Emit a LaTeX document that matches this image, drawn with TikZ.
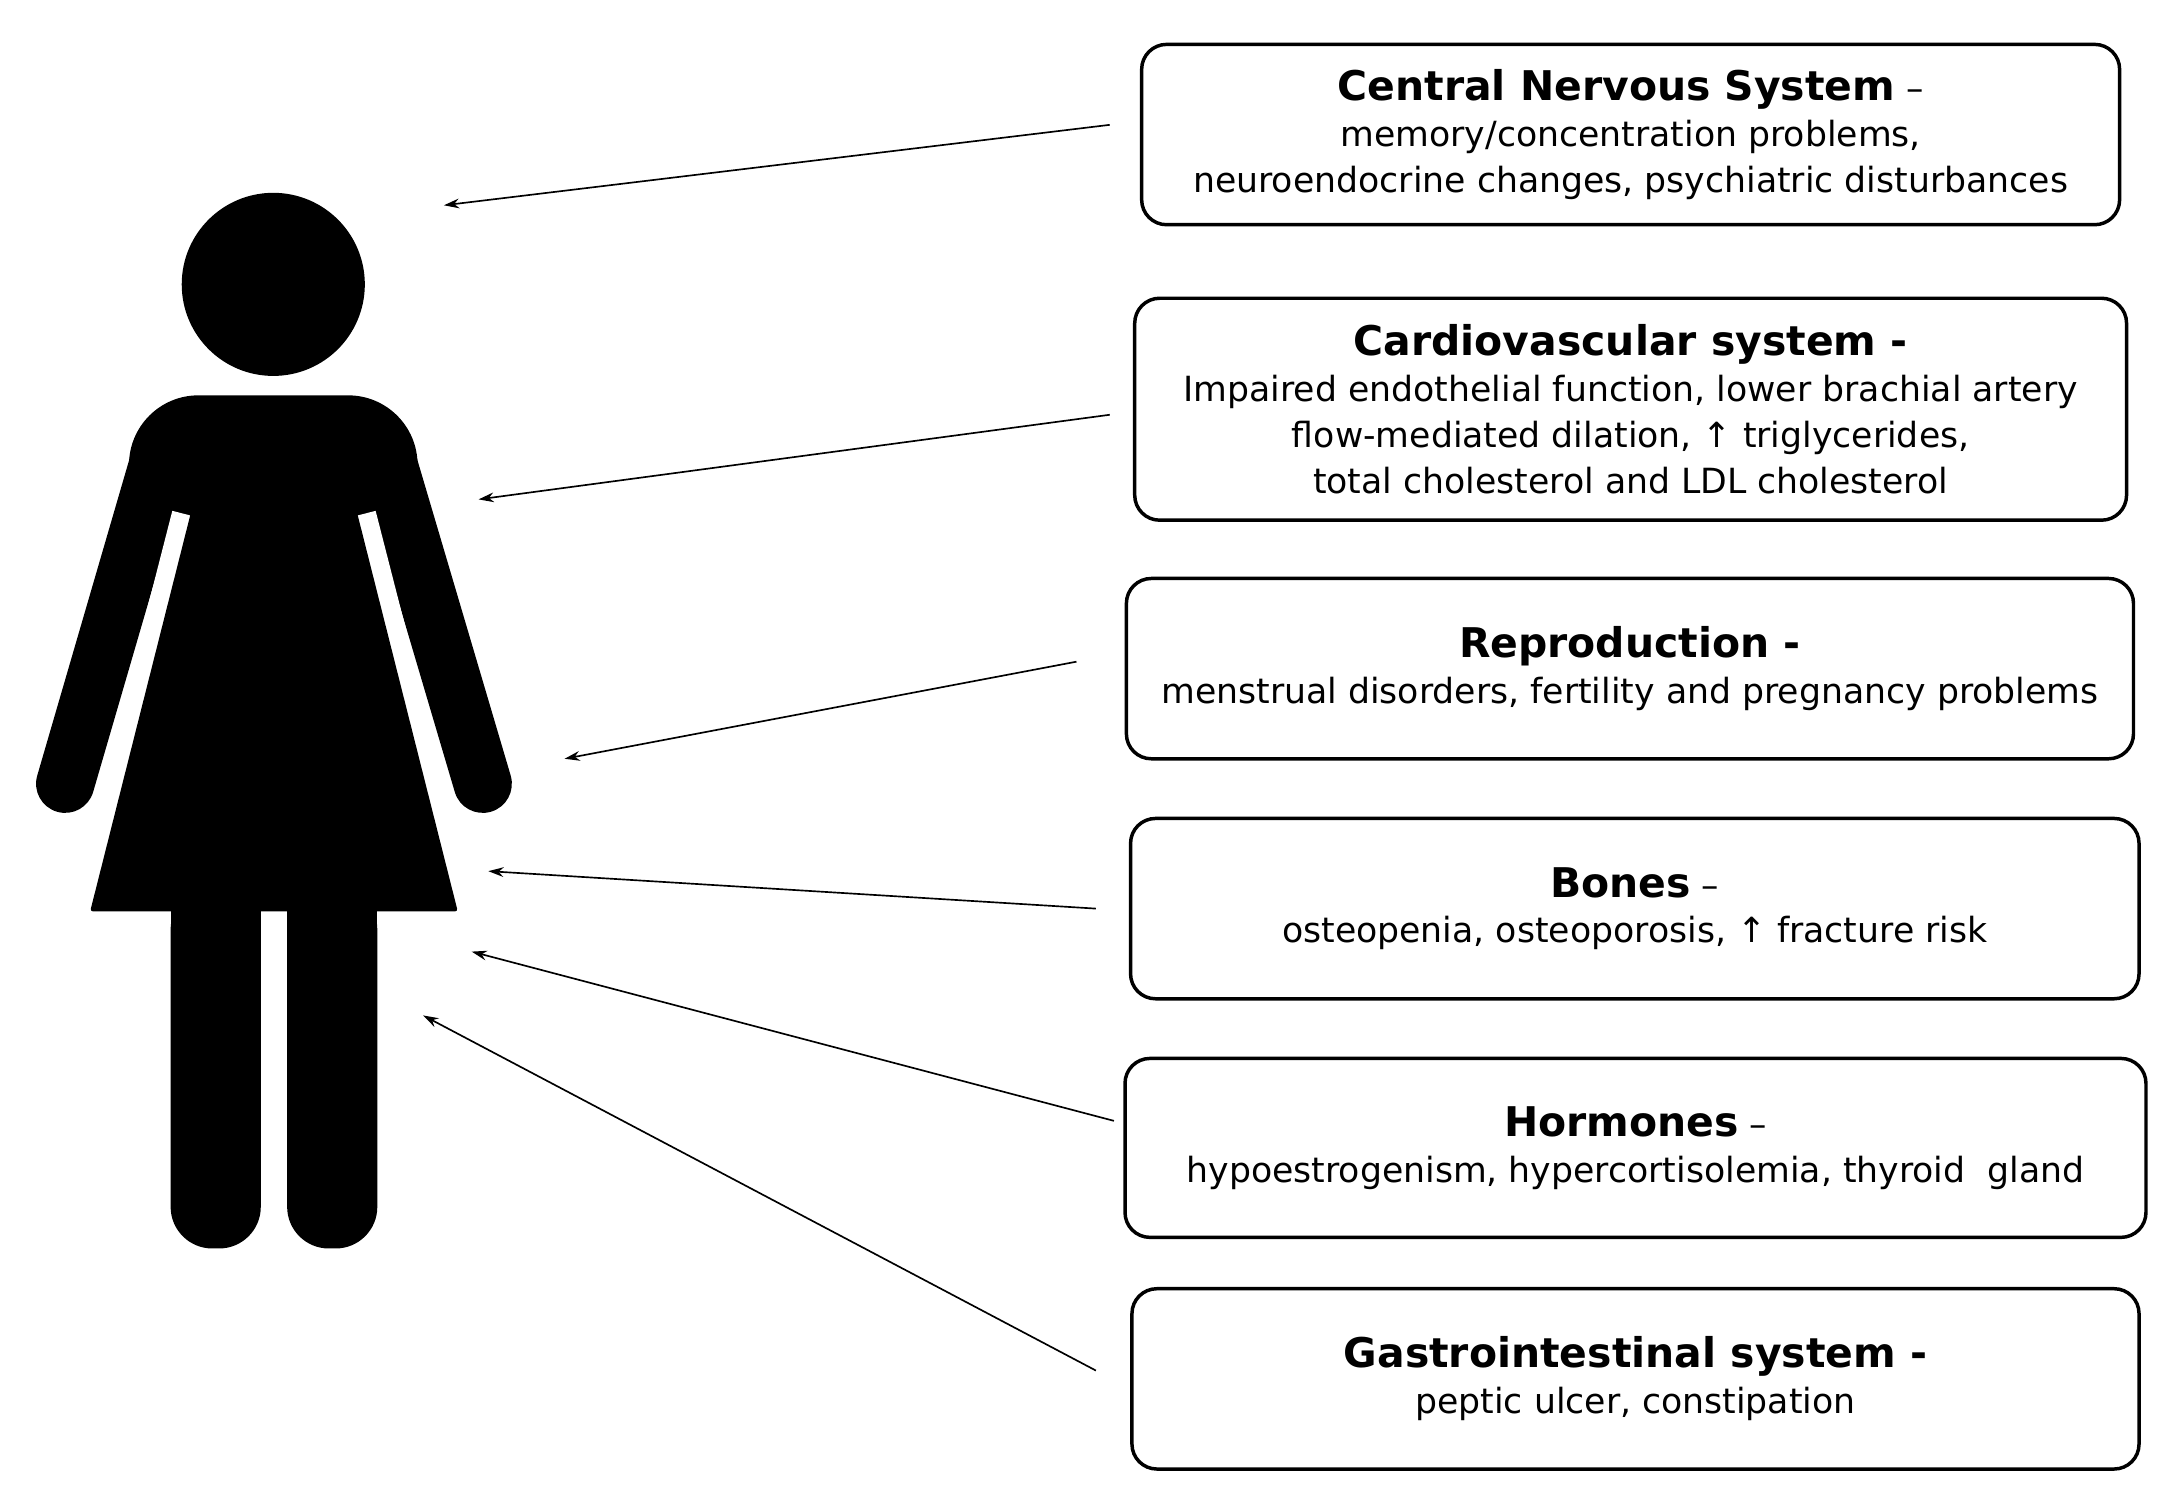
\documentclass[tikz,border=0pt]{standalone}
\usepackage{fontspec}
\setmainfont{DejaVu Sans}
\usetikzlibrary{arrows.meta}
\tikzset{
 info/.style={draw,line width=2.5pt,rounded corners=18pt,align=center,inner sep=0pt},
 arr/.style={line width=1.2pt,-{Stealth[length=11pt,width=7pt]}}
}
\newcommand{\ttl}[1]{{\fontsize{29.5}{40}\selectfont\bfseries #1}}
\begin{document}
\begin{tikzpicture}[x=1pt,y=-1pt,font=\fontsize{25}{33}\selectfont]
\useasboundingbox[fill=white] (0,0) rectangle (1560,1075);
% figure
\fill (197,205) circle (66);
\draw[line width=42pt,line cap=round] (114,335) -- (47,565);
\draw[line width=42pt,line cap=round] (280,335) -- (348,565);
\fill (93,380) [rounded corners=50pt]-- (93,285) -- (301,285) [sharp corners]-- (301,380) -- cycle;
\draw[white,line width=14pt] (131,370) -- (58,655);
\draw[white,line width=14pt] (264,370) -- (337,655);
\fill[rounded corners=2pt] (138,368) -- (257,368) -- (330,657) -- (65,657) -- cycle;
\fill[rounded corners=30pt] (123,640) -- (188,640) -- (188,900) -- (123,900) -- cycle;
\fill[rounded corners=30pt] (207,640) -- (272,640) -- (272,900) -- (207,900) -- cycle;
\fill (123,640) rectangle (188,680); \fill (207,640) rectangle (272,680);
% boxes
\node[info,minimum width=705pt,minimum height=130pt] (b1) at (1175.5,97) {\ttl{Central Nervous System} –\\memory/concentration problems,\\neuroendocrine changes, psychiatric disturbances};
\node[info,minimum width=715pt,minimum height=160pt] (b2) at (1175.5,295) {\ttl{Cardiovascular system -}\\Impaired endothelial function, lower brachial artery\\flow-mediated dilation, ↑ triglycerides,\\total cholesterol and LDL cholesterol};
\node[info,minimum width=726pt,minimum height=130pt] (b3) at (1175,482) {\ttl{Reproduction -}\\menstrual disorders, fertility and pregnancy problems};
\node[info,minimum width=727pt,minimum height=130pt] (b4) at (1178.5,655) {\ttl{Bones} –\\osteopenia, osteoporosis, ↑ fracture risk};
\node[info,minimum width=736pt,minimum height=129pt] (b5) at (1179,827.5) {\ttl{Hormones} –\\hypoestrogenism, hypercortisolemia, thyroid\ \ gland};
\node[info,minimum width=726pt,minimum height=130pt] (b6) at (1179,994) {\ttl{Gastrointestinal system -}\\peptic ulcer, constipation};
% arrows
\coordinate (h1) at (320,148); \coordinate (h2) at (345,360); \coordinate (h3) at (407,547);
\coordinate (h4) at (352,628); \coordinate (h5) at (340,686); \coordinate (h6) at (305,732);
\coordinate (s1) at (800,90); \coordinate (s2) at (800,299); \coordinate (s3) at (776,477);
\coordinate (s4) at (790,655); \coordinate (s5) at (803,808); \coordinate (s6) at (790,988);
\foreach \i in {1,...,6} \draw[arr] (s\i) -- (h\i);
\end{tikzpicture}
\end{document}
